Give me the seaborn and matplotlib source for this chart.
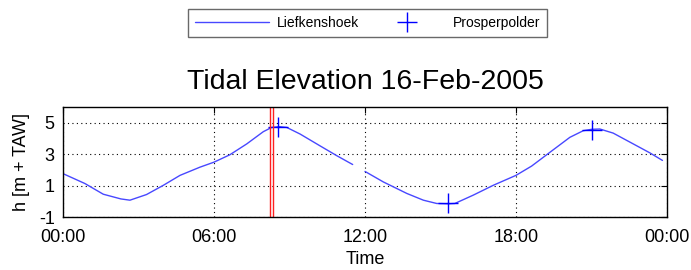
import numpy as np
import pandas as pd
import matplotlib
matplotlib.use("Agg")
import matplotlib.pyplot as plt
import seaborn as sns

# Liefkenshoek (hours since 00:00, h [m + TAW]); two segments with a data gap
lief_hours_1 = [0.0, 0.87, 1.6, 2.3, 2.66, 3.32, 3.99, 4.65, 5.44, 6.0, 6.63, 7.3, 7.96, 8.29, 8.6, 8.89, 9.42, 10.2, 10.87, 11.34, 11.51]
lief_vals_1 = [1.76, 1.13, 0.45, 0.15, 0.07, 0.43, 1.02, 1.65, 2.17, 2.49, 2.96, 3.65, 4.43, 4.70, 4.75, 4.70, 4.28, 3.54, 2.91, 2.49, 2.34]
lief_hours_2 = [12.0, 12.73, 13.66, 14.32, 14.85, 15.3, 15.57, 16.3, 17.1, 18.0, 18.62, 19.35, 20.14, 20.67, 21.0, 21.33, 21.86, 22.66, 23.32, 23.82]
lief_vals_2 = [1.90, 1.23, 0.50, 0.07, -0.14, -0.16, -0.14, 0.39, 1.02, 1.65, 2.24, 3.12, 4.07, 4.49, 4.58, 4.60, 4.34, 3.65, 3.08, 2.60]

# Prosperpolder (extrema)
prosp_hours = [8.55, 15.31, 21.03]
prosp_vals = [4.70, -0.14, 4.53]

# Red vertical markers (hours)
red_hours = [8.22, 8.36]

xticks = [0, 6, 12, 18, 24]
xticklabels = ["00:00", "06:00", "12:00", "18:00", "00:00"]
yticks = [-1, 1, 3, 5]
yticklabels = ["-1", "1", "3", "5"]

lief = pd.DataFrame({
    "hour": lief_hours_1 + lief_hours_2,
    "h": lief_vals_1 + lief_vals_2,
    "seg": [1] * len(lief_hours_1) + [2] * len(lief_hours_2),
})
prosp = pd.DataFrame({"hour": prosp_hours, "h": prosp_vals})

sns.set_style("white")
plt.rcParams["font.family"] = ["Liberation Sans", "DejaVu Sans"]
plt.rcParams["text.color"] = "black"
plt.rcParams["axes.labelcolor"] = "black"

fig = plt.figure(figsize=(6.91, 2.70), dpi=100)
ax = fig.add_axes([63 / 691, 1 - 217 / 270, (667 - 63) / 691, (217 - 107) / 270])

line_color = "#4848ff"
sns.lineplot(data=lief, x="hour", y="h", units="seg", estimator=None,
             color=line_color, linewidth=1.0, ax=ax, legend=False)
ax.plot([], [], color=line_color, linewidth=1.0, label="Liefkenshoek")
ax.plot(prosp["hour"], prosp["h"], linestyle="none", marker="+",
        markersize=15, markeredgewidth=1.0, color="#0000ff", label="Prosperpolder")
for xr in red_hours:
    ax.axvline(xr, color="#ff2020", linewidth=1.0)

ax.set_xlim(0, 24)
ax.set_ylim(-1, 6)
ax.set_xticks(xticks)
ax.set_xticklabels(xticklabels)
ax.set_yticks(yticks)
ax.set_yticklabels(yticklabels)
ax.grid(True, color="black", linestyle=(0, (1, 3)), linewidth=0.8)
ax.tick_params(direction="in", top=True, right=True, length=4, labelsize=13,
               colors="black", labelcolor="black")
ax.tick_params(axis="x", pad=9)
ax.tick_params(axis="y", pad=6)
for s in ax.spines.values():
    s.set_color("black")
    s.set_linewidth(1.0)

ax.set_xlabel("Time", fontsize=13, labelpad=3, color="black")
ax.set_ylabel("h [m + TAW]", fontsize=13, labelpad=6, color="black")
ax.set_title("Tidal Elevation 16-Feb-2005", fontsize=20.5, pad=13, color="black")

handles, labels = ax.get_legend_handles_labels()
leg = fig.legend(handles, labels, loc="upper center", bbox_to_anchor=(0.532, 0.968),
                 ncol=2, fontsize=10, frameon=True, fancybox=False, handlelength=5.3,
                 columnspacing=0.8, handletextpad=0.6, borderpad=0.5, borderaxespad=0)
leg.get_frame().set_edgecolor("#444444")
leg.get_frame().set_linewidth(1.0)
for t in leg.get_texts():
    t.set_color("black")

fig.savefig("out.png", dpi=100)
